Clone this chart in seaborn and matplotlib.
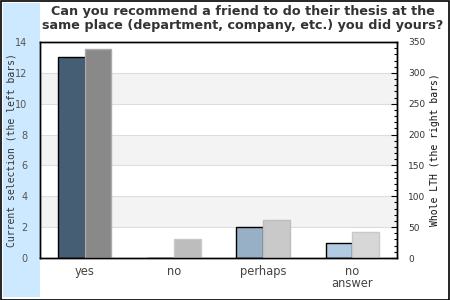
import numpy as np
import pandas as pd
import matplotlib
matplotlib.use("Agg")
import matplotlib.pyplot as plt
import matplotlib.transforms as mtransforms
import seaborn as sns
from matplotlib.patches import Rectangle
from matplotlib.ticker import MultipleLocator

categories = ["yes", "no", "perhaps", "no\nanswer"]
current_selection = [13, 0, 2, 1]
whole_lth = [338, 31, 62, 42]
left_colors = ["#3e5f7b", "#6a8fb0", "#90b1cd", "#a9cdea"]
right_colors = ["#898989", "#bdbdbd", "#c9c9c9", "#d7d7d7"]
right_edges = ["#aaaaaa", "#c8c8c8", "#bdbdbd", "#c8c8c8"]
title = "Can you recommend a friend to do their thesis at the\nsame place (department, company, etc.) you did yours?"

sns.set_theme(style="white")
plt.rcParams["font.family"] = ["DejaVu Sans"]

fig = plt.figure(figsize=(4.5, 3), dpi=100)
fig.patch.set_facecolor("white")
# left light-blue strip and outer frame
fig.patches.append(Rectangle((3/450, 3/300), 37/450, 294/300, transform=fig.transFigure,
                             facecolor="#cce9ff", edgecolor="none", zorder=-1))
fig.patches.append(Rectangle((0.5/450, 0.5/300), 448.5/450, 298.5/300, transform=fig.transFigure,
                             facecolor="none", edgecolor="black", linewidth=1.2, zorder=5))

ax = fig.add_axes([40/450, 42/300, 357/450, 216/300])
ax.set_facecolor("white")
ax2 = ax.twinx()

n = len(categories)
idx = np.arange(n)
df_left = pd.DataFrame({"pos": idx - 0.15, "val": current_selection, "cat": categories})
df_right = pd.DataFrame({"pos": idx + 0.15, "val": whole_lth, "cat": categories})

# background bands and grid
for lo in range(2, 14, 4):
    ax.axhspan(lo, lo + 2, color="#f3f3f3", zorder=0, lw=0)
for g in range(2, 14, 2):
    ax.axhline(g, color="#dddddd", lw=0.8, zorder=0.5)

sns.barplot(data=df_left, x="pos", y="val", hue="cat", palette=left_colors, native_scale=True,
            dodge=False, width=0.3, edgecolor="black", linewidth=1.0, legend=False, ax=ax,
            hue_order=categories, zorder=2)
sns.barplot(data=df_right, x="pos", y="val", hue="cat", palette=right_colors, native_scale=True,
            dodge=False, width=0.3, linewidth=1.0, legend=False, ax=ax2,
            hue_order=categories, zorder=2)
for p, ec in zip(ax2.patches, right_edges):
    p.set_edgecolor(ec)

ax.set_xlim(-0.5, n - 0.5)
ax.set_ylim(0, 14)
ax2.set_ylim(0, 350)
ax.set_xticks(idx)
ax.set_xticklabels(categories, fontsize=8.3, color="#444444", linespacing=0.95)
for lbl in ax.get_xticklabels():
    if "\n" in lbl.get_text():
        lbl.set_transform(lbl.get_transform() +
                          mtransforms.ScaledTranslation(0, -3/100, fig.dpi_scale_trans))
ax.set_yticks(range(0, 15, 2))
ax.tick_params(axis="y", length=0, labelsize=7, labelcolor="#555555", pad=9)
ax.tick_params(axis="x", length=0, pad=5)
ax2.yaxis.set_major_locator(MultipleLocator(50))
ax2.yaxis.set_minor_locator(MultipleLocator(10))
ax2.tick_params(axis="y", which="major", direction="in", length=4, width=0.8, color="black",
                labelsize=6.5, labelcolor="#333333", pad=8)
ax2.tick_params(axis="y", which="minor", direction="in", length=2.5, width=0.8, color="black")
ax.set_xlabel("")
ax.set_ylabel("Current selection (the left bars)", family="DejaVu Sans Mono", fontsize=7,
              color="#333333", labelpad=-1)
ax2.set_ylabel("Whole LTH (the right bars)", family="DejaVu Sans Mono", fontsize=7,
               color="#111111", labelpad=3)
ax2.set_xlabel("")
for a in (ax, ax2):
    for s in a.spines.values():
        s.set_color("black")
        s.set_linewidth(1.0)
ax2.set_zorder(ax.get_zorder() + 1)
ax2.patch.set_visible(False)

fig.text(243/450, 1 - 19/300, title, ha="center", va="center", fontsize=9.2,
         fontweight="bold", color="#333333", linespacing=1.1)

fig.savefig("out.png", dpi=100)
